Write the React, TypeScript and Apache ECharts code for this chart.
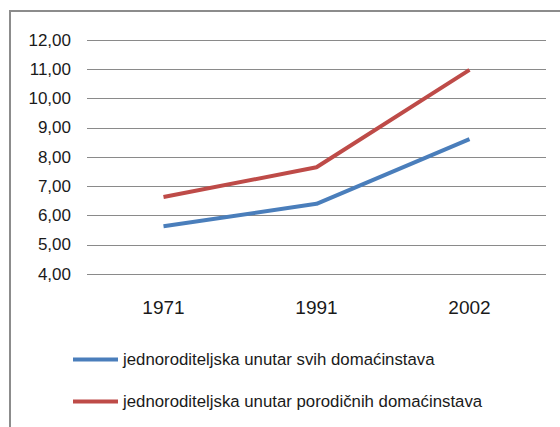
import React, { useEffect, useRef } from "react";
import * as echarts from "echarts";

const categories = ["1971", "1991", "2002"];
const seriesNames = [
  "jednoroditeljska unutar svih domaćinstava",
  "jednoroditeljska unutar porodičnih domaćinstava",
];
const allHouseholds = [5.63, 6.4, 8.61];
const familyHouseholds = [6.63, 7.65, 10.98];
const yMin = 4;
const yMax = 12;
const yStep = 1;

export default function App() {
  const ref = useRef<HTMLDivElement>(null);
  useEffect(() => {
    const chart = echarts.init(ref.current!, null, { renderer: "svg" });
    const font = "Liberation Sans";
    chart.setOption({
      animation: false,
      backgroundColor: "#ffffff",
      graphic: [
        {
          type: "rect",
          shape: { x: 10, y: 11, width: 600, height: 500 },
          style: { fill: "none", stroke: "#8c8c8c", lineWidth: 2 },
          silent: true,
        },
      ],
      grid: { left: 87, right: 14, top: 40, bottom: 153, containLabel: false },
      xAxis: {
        type: "category",
        data: categories,
        boundaryGap: true,
        axisLine: { show: false },
        axisTick: { show: false },
        axisLabel: { color: "#1a1a1a", fontFamily: font, fontSize: 19, margin: 24 },
      },
      yAxis: {
        type: "value",
        min: yMin,
        max: yMax,
        interval: yStep,
        axisLine: { show: false },
        axisTick: { show: false },
        splitLine: { lineStyle: { color: "#8a8a8a", width: 1 } },
        axisLabel: {
          color: "#1a1a1a",
          fontFamily: font,
          fontSize: 17,
          margin: 16,
          formatter: (v: number) => v.toFixed(2).replace(".", ","),
        },
      },
      legend: {
        orient: "vertical",
        left: 68,
        top: 346,
        itemWidth: 45,
        itemHeight: 4,
        itemGap: 25,
        icon: "rect",
        textStyle: { color: "#1a1a1a", fontFamily: font, fontSize: 16.8 },
        data: seriesNames,
      },
      series: [
        {
          name: seriesNames[0],
          type: "line",
          data: allHouseholds,
          showSymbol: false,
          symbol: "none",
          lineStyle: { color: "#4a7ebb", width: 4 },
          itemStyle: { color: "#4a7ebb" },
        },
        {
          name: seriesNames[1],
          type: "line",
          data: familyHouseholds,
          showSymbol: false,
          symbol: "none",
          lineStyle: { color: "#be4b48", width: 4 },
          itemStyle: { color: "#be4b48" },
        },
      ],
    });
    return () => chart.dispose();
  }, []);
  return (
    <div
      ref={ref}
      style={{ position: "fixed", left: 0, top: 0, width: 560, height: 427 }}
    />
  );
}
